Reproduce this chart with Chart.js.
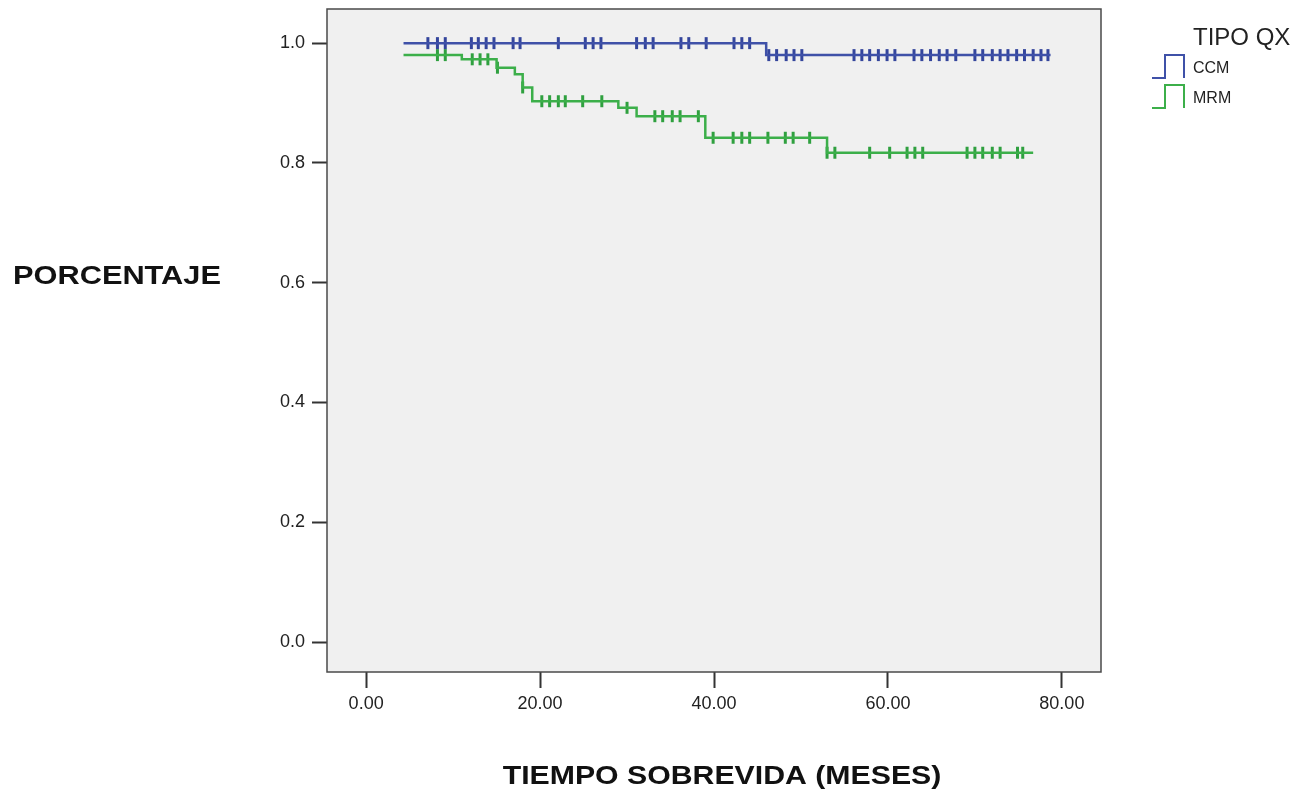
<!DOCTYPE html>
<html>
<head>
<meta charset="utf-8">
<title>Supervivencia por tipo QX</title>
<script src="https://cdn.jsdelivr.net/npm/chart.js@4.4.1/dist/chart.umd.min.js"></script>
<style>
  html, body { margin: 0; padding: 0; background: #fff; }
  #wrap { width: 1304px; height: 798px; }
</style>
</head>
<body>
<div id="wrap"><canvas id="kmChart" width="1304" height="798"></canvas></div>
<script>
// Curvas de supervivencia (tiempo del escalon, porcentaje despues del escalon)
const ccmTimes = [4.3, 46.0, 78.7];
const ccmSurv = [1.0, 0.98, 0.98];
const mrmTimes = [4.3, 11.0, 15.0, 17.1, 18.0, 19.1, 29.0, 31.1, 39.0, 53.0, 76.7];
const mrmSurv = [0.98, 0.973, 0.959, 0.948, 0.926, 0.903, 0.892, 0.878, 0.842, 0.817, 0.817];

// Casos censurados (meses)
const ccmCensored = [7.1, 8.2, 9.1, 12.1, 12.9, 13.8, 14.7, 16.9, 17.7, 22.1, 25.2, 26.1, 27.0,
  31.1, 32.1, 33.0, 36.2, 37.1, 39.1, 42.3, 43.2, 44.1, 46.3, 47.2, 48.3, 49.2, 50.1,
  56.1, 57.0, 57.9, 58.9, 59.9, 60.8, 63.0, 63.9, 64.9, 65.9, 66.8, 67.8,
  70.0, 70.9, 72.0, 72.9, 73.8, 74.8, 75.7, 76.7, 77.6, 78.4];
const mrmCensored = [8.2, 9.1, 12.2, 13.1, 14.0, 15.1, 18.0, 20.2, 21.1, 22.1, 22.9, 24.9, 27.1,
  30.0, 33.2, 34.1, 35.2, 36.1, 38.2, 39.9, 42.2, 43.2, 44.1, 46.2, 48.2, 49.1, 51.0,
  53.0, 53.9, 57.9, 60.2, 62.2, 63.1, 64.0, 69.1, 70.0, 70.9, 72.0, 72.9, 74.9, 75.5];

const groupLabels = ['CCM', 'MRM'];
const xTickValues = [0, 20, 40, 60, 80];
const yTickValues = [0, 0.2, 0.4, 0.6, 0.8, 1.0];

const BLUE = '#3f51a8';
const GREEN = '#3caf4a';
const FONT = '"Liberation Sans", Arial, sans-serif';

// value of the step curve at time t
function survAt(times, surv, t) {
    let s = surv[0];
    for (let i = 0; i < times.length; i++) {
        if (times[i] <= t) s = surv[i];
    }
    return s;
}

const toPoints = (times, surv) => times.map((t, i) => ({ x: t, y: surv[i] }));
const censorPoints = (cens, times, surv) => cens.map(t => ({ x: t, y: survAt(times, surv, t) }));

const ctx = document.getElementById('kmChart').getContext('2d');

const plotBackground = {
    id: 'plotBackground',
    beforeDraw(chart) {
        const c = chart.ctx, a = chart.chartArea;
        c.save();
        c.fillStyle = '#ffffff';
        c.fillRect(0, 0, chart.width, chart.height);
        c.fillStyle = '#f0f0f0';
        c.fillRect(a.left, a.top, a.right - a.left, a.bottom - a.top);
        c.restore();
    },
    afterDraw(chart) {
        const c = chart.ctx, a = chart.chartArea;
        c.save();
        c.strokeStyle = '#4a4a4a';
        c.lineWidth = 1.5;
        c.strokeRect(a.left, a.top, a.right - a.left, a.bottom - a.top);

        // axis titles (the original is a bit stretched sideways)
        c.fillStyle = '#111';
        c.font = 'bold 25px ' + FONT;
        c.textAlign = 'center';
        c.textBaseline = 'middle';
        c.save();
        c.translate(117, 277);
        c.scale(1.23, 1);
        c.fillText('PORCENTAJE', 0, 0);
        c.restore();
        c.save();
        c.translate(722, 777);
        c.scale(1.21, 1);
        c.fillText('TIEMPO SOBREVIDA (MESES)', 0, 0);
        c.restore();

        // legend
        c.textAlign = 'left';
        c.textBaseline = 'alphabetic';
        c.fillStyle = '#222';
        c.font = '24px ' + FONT;
        c.fillText('TIPO QX', 1193, 45);
        const colors = [BLUE, GREEN];
        groupLabels.forEach((lab, i) => {
            const top = 55 + i * 30, bot = top + 23;
            c.strokeStyle = colors[i];
            c.lineWidth = 2;
            c.beginPath();
            c.moveTo(1152, bot);
            c.lineTo(1165, bot);
            c.lineTo(1165, top);
            c.lineTo(1184, top);
            c.lineTo(1184, bot);
            c.stroke();
            c.fillStyle = '#222';
            c.font = '16px ' + FONT;
            c.fillText(lab, 1193, 73 + i * 30);
        });
        c.restore();
    }
};

new Chart(ctx, {
    type: 'scatter',
    data: {
        datasets: [
            {
                label: 'CCM',
                data: toPoints(ccmTimes, ccmSurv),
                showLine: true,
                stepped: true,
                borderColor: BLUE,
                borderWidth: 2.5,
                pointRadius: 0
            },
            {
                label: 'MRM',
                data: toPoints(mrmTimes, mrmSurv),
                showLine: true,
                stepped: true,
                borderColor: GREEN,
                borderWidth: 2.5,
                pointRadius: 0
            },
            {
                label: 'CCM censurado',
                data: censorPoints(ccmCensored, ccmTimes, ccmSurv),
                showLine: false,
                pointStyle: 'line',
                rotation: 90,
                pointRadius: 6,
                borderColor: '#34459c',
                borderWidth: 3
            },
            {
                label: 'MRM censurado',
                data: censorPoints(mrmCensored, mrmTimes, mrmSurv),
                showLine: false,
                pointStyle: 'line',
                rotation: 90,
                pointRadius: 6,
                borderColor: '#2fa03f',
                borderWidth: 3
            }
        ]
    },
    options: {
        responsive: false,
        animation: false,
        events: [],
        layout: { padding: { left: 0, right: 203, top: 8, bottom: 0 } },
        plugins: {
            legend: { display: false },
            tooltip: { enabled: false }
        },
        scales: {
            x: {
                type: 'linear',
                min: -4.5,
                max: 84.5,
                afterBuildTicks: s => { s.ticks = xTickValues.map(v => ({ value: v })); },
                afterFit: s => {
                    s.height = 126;
                    s.paddingLeft = 0; s.paddingRight = 0; s.paddingTop = 0; s.paddingBottom = 0;
                },
                border: { display: false },
                grid: { drawOnChartArea: false, drawTicks: true, tickLength: 16, tickColor: '#333', tickWidth: 2 },
                ticks: {
                    color: '#222',
                    font: { family: FONT, size: 18 },
                    padding: 5,
                    maxRotation: 0,
                    autoSkip: false,
                    callback: v => Number(v).toFixed(2)
                }
            },
            y: {
                type: 'linear',
                min: -0.05,
                max: 1.057,
                afterBuildTicks: s => { s.ticks = yTickValues.map(v => ({ value: v })); },
                afterFit: s => {
                    s.width = 327;
                    s.paddingLeft = 0; s.paddingRight = 0; s.paddingTop = 0; s.paddingBottom = 0;
                },
                border: { display: false },
                grid: { drawOnChartArea: false, drawTicks: true, tickLength: 15, tickColor: '#333', tickWidth: 2 },
                ticks: {
                    color: '#222',
                    font: { family: FONT, size: 18 },
                    padding: 7,
                    autoSkip: false,
                    callback: v => Number(v).toFixed(1)
                }
            }
        }
    },
    plugins: [plotBackground]
});
</script>
</body>
</html>
